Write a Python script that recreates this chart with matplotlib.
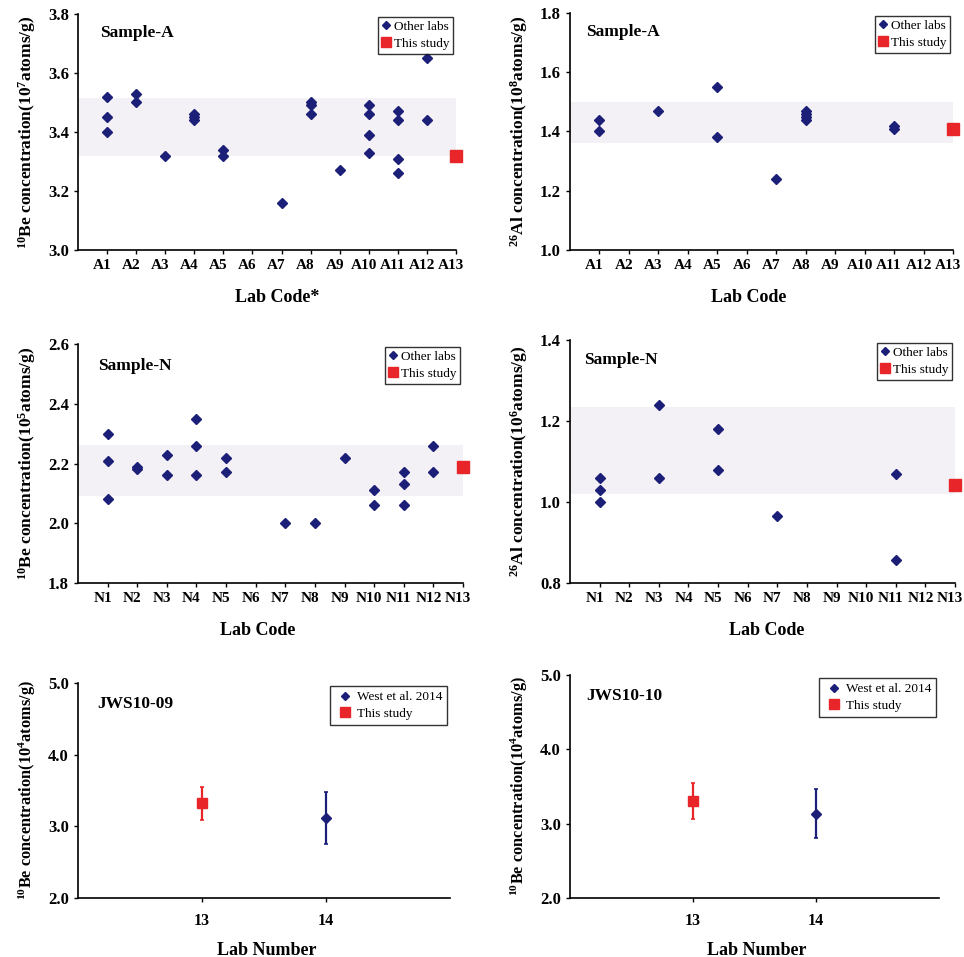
import matplotlib
matplotlib.use("Agg")
import matplotlib.pyplot as plt
import matplotlib.transforms as mtransforms
from matplotlib.lines import Line2D

plt.rcParams["font.family"] = ["Liberation Serif", "DejaVu Serif"]
plt.rcParams["mathtext.fontset"] = "custom"
plt.rcParams["mathtext.rm"] = "Liberation Serif:bold"
plt.rcParams["mathtext.it"] = "Liberation Serif:italic:bold"
plt.rcParams["mathtext.bf"] = "Liberation Serif:bold"

NAVY = "#1c1f78"
RED = "#e8262a"
BAND = "#f3f1f5"

# ---- Sample-A, 10Be (10^7 atoms/g)
be_a_labs = [1, 1, 1, 2, 2, 3, 4, 4, 4, 5, 5, 7, 8, 8, 8, 9, 10, 10, 10, 10, 11, 11, 11, 11, 12, 12]
be_a_vals = [3.52, 3.45, 3.40, 3.53, 3.50, 3.32, 3.46, 3.45, 3.44, 3.34, 3.32, 3.16,
             3.50, 3.49, 3.46, 3.27, 3.49, 3.46, 3.39, 3.33, 3.47, 3.44, 3.31, 3.26, 3.65, 3.44]
be_a_this = 3.32
be_a_band = (3.32, 3.515)

# ---- Sample-A, 26Al (10^8 atoms/g)
al_a_labs = [1, 1, 3, 5, 5, 7, 8, 8, 8, 8, 11, 11]
al_a_vals = [1.44, 1.40, 1.47, 1.55, 1.38, 1.24, 1.47, 1.46, 1.45, 1.44, 1.42, 1.41]
al_a_this = 1.41
al_a_band = (1.36, 1.50)

# ---- Sample-N, 10Be (10^5 atoms/g)
be_n_labs = [1, 1, 1, 2, 2, 3, 3, 4, 4, 4, 5, 5, 7, 8, 9, 10, 10, 11, 11, 11, 12, 12]
be_n_vals = [2.30, 2.21, 2.08, 2.19, 2.18, 2.23, 2.16, 2.35, 2.26, 2.16, 2.22, 2.17,
             2.00, 2.00, 2.22, 2.11, 2.06, 2.17, 2.13, 2.06, 2.26, 2.17]
be_n_this = 2.187
be_n_band = (2.09, 2.262)

# ---- Sample-N, 26Al (10^6 atoms/g)
al_n_labs = [1, 1, 1, 3, 3, 5, 5, 7, 11, 11]
al_n_vals = [1.06, 1.03, 1.00, 1.24, 1.06, 1.18, 1.08, 0.965, 1.07, 0.856]
al_n_this = 1.041
al_n_band = (1.02, 1.234)

# ---- JWS10-09 / JWS10-10, 10Be (10^4 atoms/g)
jws_labs = [13, 14]
jws09_vals = [3.32, 3.12]
jws09_errs = [0.23, 0.36]
jws10_vals = [3.30, 3.13]
jws10_errs = [0.24, 0.33]


def style_axes(ax, ylim, yticks, xlabel, ylabel, xlabel_x, ylabel_size=12.5, xlabel_pad=12):
    ax.set_ylim(*ylim)
    ax.set_yticks(yticks)
    ax.set_yticklabels([f"{t:.1f}" for t in yticks], fontsize=12, fontweight="bold")
    ax.spines["top"].set_visible(False)
    ax.spines["right"].set_visible(False)
    ax.spines["left"].set_linewidth(1.2)
    ax.spines["bottom"].set_linewidth(1.2)
    ax.tick_params(direction="out", length=3, width=1)
    ax.set_xlabel(xlabel, fontsize=13, fontweight="bold", labelpad=xlabel_pad)
    ax.xaxis.label.set_x(xlabel_x)
    ax.set_ylabel(ylabel, fontsize=ylabel_size, fontweight="bold", labelpad=7)


def shift_xticklabels(ax, dx_px):
    # nudge tick labels sideways, as in the original (must run after tick_params)
    offset = mtransforms.ScaledTranslation(dx_px / 100, 0, ax.figure.dpi_scale_trans)
    for tick in ax.xaxis.get_major_ticks():
        tick.label1.set_transform(tick.label1.get_transform() + offset)


def lab_panel(ax, prefix, labs, vals, this_val, band, ylim, yticks, xlabel, ylabel, title,
              title_xy, xlabel_x):
    ax.axhspan(band[0], band[1], color=BAND, zorder=0, lw=0)
    ax.plot(labs, vals, "D", color=NAVY, markersize=5.5, zorder=3, clip_on=False)
    ax.plot([13], [this_val], "s", color=RED, markersize=8, zorder=3, clip_on=False)
    ax.set_xlim(0, 13)
    ticks = list(range(1, 14))
    ax.set_xticks(ticks)
    ax.set_xticklabels([f"{prefix}{i}" for i in ticks], fontsize=11, fontweight="bold")
    style_axes(ax, ylim, yticks, xlabel, ylabel, xlabel_x)
    shift_xticklabels(ax, -5)
    ax.text(title_xy[0], title_xy[1], title, transform=ax.transAxes, fontsize=12.5,
            fontweight="bold", va="center", ha="left")
    handles = [
        Line2D([], [], marker="D", color=NAVY, ls="", markersize=4.5),
        Line2D([], [], marker="s", color=RED, ls="", markersize=6.5),
    ]
    leg = ax.legend(handles, ["Other labs", "This study"], loc="upper right",
                    bbox_to_anchor=(1.0, 1.0), fontsize=9.5, frameon=True, fancybox=False,
                    handlelength=0.6, handletextpad=0.3, borderpad=0.3, labelspacing=0.35,
                    borderaxespad=0.2)
    leg.get_frame().set_edgecolor("black")
    leg.get_frame().set_linewidth(1.0)


def jws_panel(ax, vals, errs, ylabel, title, title_xy, xlabel_x):
    ax.errorbar([jws_labs[0]], [vals[0]], yerr=[errs[0]], fmt="s", color=RED, markersize=7,
                elinewidth=1.6, capsize=1.5, capthick=1.2, zorder=3)
    ax.errorbar([jws_labs[1]], [vals[1]], yerr=[errs[1]], fmt="D", color=NAVY, markersize=5.5,
                elinewidth=1.6, capsize=1.5, capthick=1.2, zorder=3)
    ax.set_xlim(12, 15)
    ax.set_xticks(jws_labs)
    ax.set_xticklabels([str(v) for v in jws_labs], fontsize=11.5, fontweight="bold")
    style_axes(ax, (2.0, 5.0), [2.0, 3.0, 4.0, 5.0], "Lab Number", ylabel, xlabel_x,
               ylabel_size=11.8, xlabel_pad=9)
    ax.xaxis.set_tick_params(pad=8)
    ax.text(title_xy[0], title_xy[1], title, transform=ax.transAxes, fontsize=12.5,
            fontweight="bold", va="center", ha="left")
    handles = [
        Line2D([], [], marker="D", color=NAVY, ls="", markersize=4.5),
        Line2D([], [], marker="s", color=RED, ls="", markersize=6.5),
    ]
    leg = ax.legend(handles, ["West et al. 2014", "This study"], loc="upper right",
                    bbox_to_anchor=(1.0, 1.0), fontsize=9.5, frameon=True, fancybox=False,
                    handlelength=1.6, handletextpad=0.1, borderpad=0.35, labelspacing=0.35,
                    borderaxespad=0.25)
    leg.get_frame().set_edgecolor("black")
    leg.get_frame().set_linewidth(1.0)


fig = plt.figure(figsize=(9.64, 9.57), dpi=100)

ax1 = fig.add_axes([0.0809, 0.7388, 0.3922, 0.2466])
ax2 = fig.add_axes([0.5913, 0.7388, 0.3973, 0.2476])
ax3 = fig.add_axes([0.0809, 0.3908, 0.3994, 0.2497])
ax4 = fig.add_axes([0.5913, 0.3908, 0.3994, 0.2539])
ax5 = fig.add_axes([0.0809, 0.0617, 0.3859, 0.2246])
ax6 = fig.add_axes([0.5913, 0.0617, 0.3827, 0.2330])

lab_panel(ax1, "A", be_a_labs, be_a_vals, be_a_this, be_a_band, (3.0, 3.8),
          [3.0, 3.2, 3.4, 3.6, 3.8], "Lab Code*",
          "$^{10}$Be concentration(10$^{7}$atoms/g)", "Sample-A", (0.058, 0.92), 0.527)
lab_panel(ax2, "A", al_a_labs, al_a_vals, al_a_this, al_a_band, (1.0, 1.8),
          [1.0, 1.2, 1.4, 1.6, 1.8], "Lab Code",
          "$^{26}$Al concentration(10$^{8}$atoms/g)", "Sample-A", (0.042, 0.92), 0.466)
lab_panel(ax3, "N", be_n_labs, be_n_vals, be_n_this, be_n_band, (1.8, 2.6),
          [1.8, 2.0, 2.2, 2.4, 2.6], "Lab Code",
          "$^{10}$Be concentration(10$^{5}$atoms/g)", "Sample-N", (0.052, 0.908), 0.468)
lab_panel(ax4, "N", al_n_labs, al_n_vals, al_n_this, al_n_band, (0.8, 1.4),
          [0.8, 1.0, 1.2, 1.4], "Lab Code",
          "$^{26}$Al concentration(10$^{6}$atoms/g)", "Sample-N", (0.036, 0.918), 0.512)
jws_panel(ax5, jws09_vals, jws09_errs, "$^{10}$Be concentration(10$^{4}$atoms/g)",
          "JWS10-09", (0.051, 0.902), 0.508)
jws_panel(ax6, jws10_vals, jws10_errs, "$^{10}$Be concentration(10$^{4}$atoms/g)",
          "JWS10-10", (0.043, 0.906), 0.505)

fig.savefig("out.png", dpi=100)
